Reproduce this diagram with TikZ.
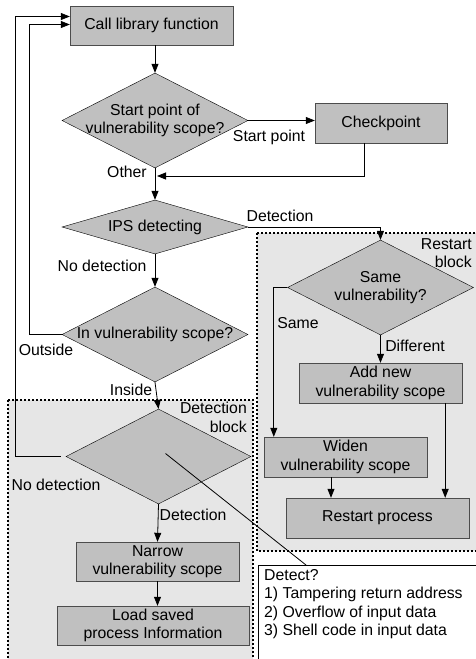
\documentclass[tikz,border=0pt]{standalone}
\usepackage{fontspec}
\setmainfont{Liberation Sans}
\usetikzlibrary{shapes.geometric}
\usetikzlibrary{positioning}
\usetikzlibrary{arrows.meta}
\definecolor{boxgray}{HTML}{C0C0C0}
\definecolor{blockgray}{HTML}{E6E6E6}

\begin{document}
\begin{tikzpicture}[x=1pt,y=-1pt,
  every node/.style={font=\fontsize{15.8}{18.5}\selectfont},
  procbox/.style={draw=black!70,fill=boxgray,minimum height=39,inner sep=0pt,align=center},
  decision/.style={diamond,draw,fill=boxgray,inner xsep=-14pt,inner ysep=0pt,aspect=1.96,minimum width=186,minimum height=95,align=center},
  arr/.style={-{Triangle[length=9pt,width=7pt]},line width=0.8pt},
  lnk/.style={line width=0.8pt},
  blockarea/.style={fill=blockgray,draw,line width=1.8pt,dash pattern=on 2pt off 2pt},
  lbl/.style={inner sep=0pt}]
\useasboundingbox (0,0) rectangle (476,659);
\clip (0,0) rectangle (476,659);
\fill[white] (0,0) rectangle (476,659);
% blocks
\draw[blockarea] (8,400) rectangle (253,680);
\draw[blockarea] (257,233) rectangle (490,551);
\node[lbl,anchor=north east,align=right] (detblk) at (247,402) {Detection\\block};
\node[lbl,anchor=north east,align=right] (rstblk) at (472,238) {Restart\\block};
% steps
\node[procbox,minimum width=163] (call) at (151.5,25.5) {Call library function};
\node[decision] (sp) at (155,120.5) {Start point of\\vulnerability scope?};
\node[procbox,minimum width=132,minimum height=40] (check) at (381,123) {Checkpoint};
\node[decision,aspect=3.44,minimum height=54] (ips) at (155,227) {IPS detecting};
\node[decision] (inscope) at (155,334.5) {In vulnerability scope?};
\node[decision] (same) at (380.5,287.5) {Same\\vulnerability?};
\node[procbox,minimum width=163,minimum height=40] (add) at (380.5,383) {Add new\\vulnerability scope};
\node[procbox,minimum width=163,minimum height=40] (widen) at (345.5,457) {Widen\\vulnerability scope};
\node[procbox,minimum width=183,minimum height=40] (restart) at (377.5,518) {Restart process};
\node[decision,minimum width=185] (detect) at (158.5,456.5) {};
\node[procbox,minimum width=163] (narrow) at (157.5,561.5) {Narrow\\vulnerability scope};
\node[procbox,minimum width=192] (load) at (153,625.5) {Load saved\\process Information};
\coordinate (checkout) at ([xshift=-17pt]check.south);
\coordinate (merge) at (157,176);
\coordinate (addout) at ([xshift=-17pt]add.south east);
\coordinate (widenout) at ([xshift=-14.5pt]widen.south);
% connectors
\draw[arr] (call.south -| sp.north) -- (sp.north);
\draw[arr] (sp.east) -- (sp.east -| check.west);
\draw[arr] (checkout) |- (merge);
\draw[arr] (sp.south) -- (ips.north);
\draw[arr] (ips.east) -| (same.north);
\draw[arr] (ips.south) -- (inscope.north);
\draw[arr] (inscope.west) -- ++(-32,0) |- ([yshift=1pt]call.west);
\draw[arr] (inscope.south) -- (detect.north);
\draw[arr] ([xshift=-5pt]detect.west) -- ++(-45,0) |- ([yshift=9pt]call.west);
\draw[arr] (detect.south) -- (narrow.north);
\draw[arr] (narrow.south) -- (narrow.south |- load.north);
\draw[arr] (same.west) -| ([xshift=10pt]widen.north west);
\draw[arr] (same.south) -- (add.north);
\draw[arr] (addout) -- (addout |- restart.north);
\draw[arr] (widenout) -- (widenout |- restart.north);
% labels
\node[lbl] (lstart) at (269,137) {Start point};
\node[lbl] (lother) at (127,172) {Other};
\node[lbl] (ldet1) at (280,216) {Detection};
\node[lbl] (lnodet1) at (102,266) {No detection};
\node[lbl] (lout) at (46,350) {Outside};
\node[lbl] (lin) at (131,390) {Inside};
\node[lbl] (lsame) at (298,323) {Same};
\node[lbl] (ldiff) at (415,346) {Different};
\node[lbl] (lnodet2) at (56,485) {No detection};
\node[lbl] (ldet2) at (193,515) {Detection};
% callout
\node[draw,fill=white,minimum width=240,minimum height=120,anchor=north west,inner sep=0pt] (callout) at (258,565) {};
\node[lbl,anchor=north west,align=left] (callouttxt) at (264,569) {Detect?\\1) Tampering return address\\2) Overflow of input data\\3) Shell code in input data};
\draw[lnk] ([xshift=48pt]callout.north west) -- ([shift={(7,-3)}]detect.center);
\end{tikzpicture}
\end{document}
